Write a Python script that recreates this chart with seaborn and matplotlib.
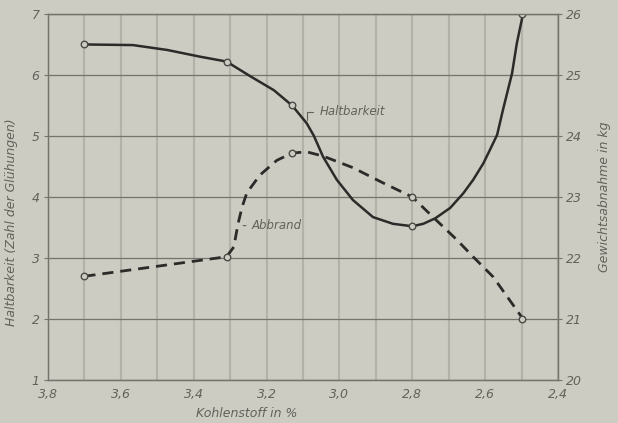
import numpy as np
import pandas as pd
import matplotlib
matplotlib.use("Agg")
import matplotlib.pyplot as plt
import seaborn as sns

# gemessene Punkte (Kreise)
kohlenstoff = [3.7, 3.31, 3.13, 2.8, 2.5]
haltbarkeit = [6.5, 6.22, 5.5, 3.52, 7.0]
abbrand_kg = [21.7, 22.02, 23.72, 23.0, 21.0]

# Verlauf der gezeichneten Kurven
halt_kurve_x = [3.7, 3.567, 3.473, 3.383, 3.31, 3.245, 3.18, 3.13, 3.09, 3.07, 3.045,
                3.007, 2.963, 2.908, 2.853, 2.8, 2.77, 2.737, 2.696, 2.66, 2.633,
                2.605, 2.587, 2.567, 2.551, 2.526, 2.513, 2.496]
halt_kurve_y = [6.5, 6.49, 6.41, 6.3, 6.22, 5.98, 5.75, 5.5, 5.21, 5.0, 4.66,
                4.28, 3.95, 3.67, 3.56, 3.52, 3.56, 3.65, 3.82, 4.06, 4.28,
                4.55, 4.77, 5.02, 5.43, 6.03, 6.52, 7.0]
abb_kurve_x = [3.7, 3.31, 3.29, 3.278, 3.267, 3.254, 3.218, 3.172, 3.13, 3.09, 3.045,
               2.963, 2.88, 2.8, 2.743, 2.678, 2.633, 2.578, 2.496]
abb_kurve_y = [21.7, 22.02, 22.18, 22.57, 22.84, 23.07, 23.36, 23.6, 23.72, 23.74, 23.67,
               23.48, 23.23, 23.0, 22.67, 22.3, 22.02, 21.69, 21.0]

x_ticks = [3.8, 3.6, 3.4, 3.2, 3.0, 2.8, 2.6, 2.4]
x_labels = ["3,8", "3,6", "3,4", "3,2", "3,0", "2,8", "2,6", "2,4"]
left_ticks = [1, 2, 3, 4, 5, 6, 7]
right_ticks = [20, 21, 22, 23, 24, 25, 26]

paper = "#cdccc2"
ink = "#2b2b29"
txt = "#62625c"

sns.set_style("white")
plt.rcParams["font.family"] = ["DejaVu Sans"]

fig = plt.figure(figsize=(6.18, 4.23), dpi=100, facecolor=paper)
ax = fig.add_axes([0.0777, 0.1017, 0.8252, 0.8653])
ax.set_facecolor(paper)
ax2 = ax.twinx()

# Gitter
for v in np.arange(3.8, 2.35, -0.1):
    ax.axvline(v, color="#b3b2a9", lw=1.5, zorder=0)
for h in left_ticks:
    ax.axhline(h, color="#74746e", lw=0.9, zorder=1)

df_h = pd.DataFrame({"x": halt_kurve_x, "y": halt_kurve_y})
df_a = pd.DataFrame({"x": abb_kurve_x, "y": abb_kurve_y})
sns.lineplot(data=df_h, x="x", y="y", ax=ax, sort=False, color=ink, lw=1.8, zorder=3)
sns.lineplot(data=df_a, x="x", y="y", ax=ax2, sort=False, color=ink, lw=2.0,
             linestyle=(0, (4, 2.5)), zorder=3)
sns.scatterplot(x=kohlenstoff, y=haltbarkeit, ax=ax, s=22, facecolor=paper,
                edgecolor="#4a4a46", linewidth=1.0, zorder=4)
sns.scatterplot(x=kohlenstoff, y=abbrand_kg, ax=ax2, s=22, facecolor=paper,
                edgecolor="#4a4a46", linewidth=1.0, zorder=4)

ax.set_xlim(3.8, 2.4)
ax.set_ylim(1, 7)
ax2.set_ylim(20, 26)
ax.set_xticks(x_ticks)
ax.set_xticklabels(x_labels)
ax.set_yticks(left_ticks)
ax2.set_yticks(right_ticks)

for a in (ax, ax2):
    for s in a.spines.values():
        s.set_color("#74746e")
        s.set_linewidth(0.9)
    a.tick_params(length=3, width=0.8, color="#74746e", labelsize=9, labelcolor=txt, pad=3)
    for lab in a.get_xticklabels() + a.get_yticklabels():
        lab.set_style("italic")
ax.tick_params(axis="x", length=0, pad=6)

ax.set_xlabel("Kohlenstoff in %", fontsize=9, style="italic", color=txt)
ax.xaxis.set_label_coords(0.39, -0.075)
ax.set_ylabel("Haltbarkeit (Zahl der Glühungen)", fontsize=9, style="italic", color=txt)
ax.yaxis.set_label_coords(-0.058, 0.43)
ax2.set_ylabel("Gewichtsabnahme in kg", fontsize=9, style="italic", color=txt)
ax2.yaxis.set_label_coords(1.078, 0.5)

ax.annotate("Haltbarkeit", xy=(3.089, 5.21), xytext=(3.055, 5.4), fontsize=8.5,
            style="italic", color=txt, va="center", ha="left",
            arrowprops=dict(arrowstyle="-", color=txt, lw=0.8,
                            connectionstyle="angle,angleA=0,angleB=90,rad=0"))
ax.annotate("Abbrand", xy=(3.272, 3.53), xytext=(3.24, 3.53), fontsize=8.5,
            style="italic", color=txt, va="center", ha="left",
            arrowprops=dict(arrowstyle="-", color=txt, lw=0.8))

fig.savefig("out.png", dpi=100, facecolor=paper)
